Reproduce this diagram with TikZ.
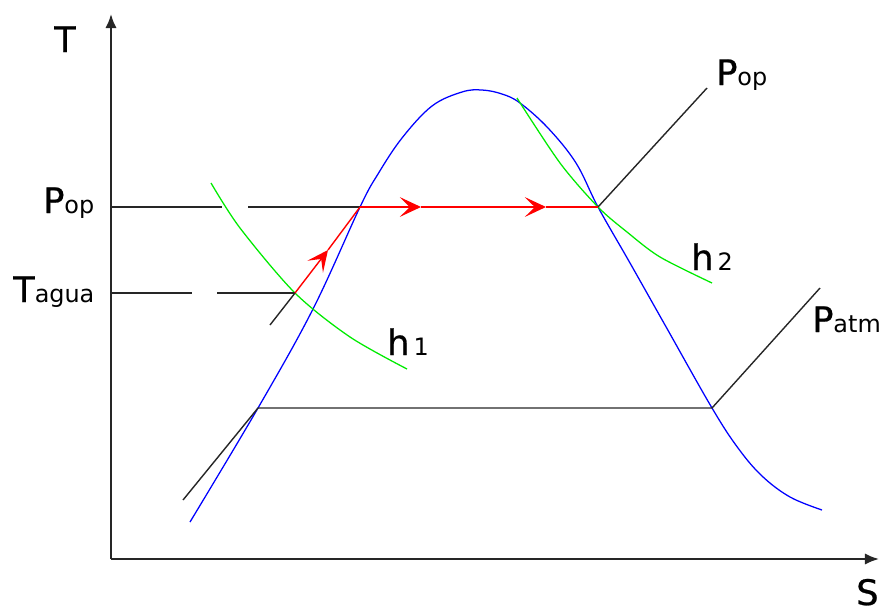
\documentclass[tikz,border=0pt]{standalone}
\usepackage{fontspec}
\setmainfont{DejaVu Sans}
\newfontface\heavylab[FakeBold=0.7]{DejaVu Sans}
\usepackage{xcolor}
\usetikzlibrary{arrows.meta}

\definecolor{domeblue}{RGB}{0,0,255}
\definecolor{enthgreen}{RGB}{0,235,0}
\definecolor{flowred}{RGB}{255,0,0}

\newcommand{\lsub}[1]{{\normalfont\fontsize{17}{17}\selectfont #1}}

\begin{document}
\begin{tikzpicture}[
    x=0.025cm, y=-0.025cm,
    % Axes
    axis/.style={line width=1.4pt, black!85, -{Latex[length=10pt,width=8pt]}},
    % Isobars and guide lines
    iso/.style={line width=1pt, black!85},
    % Saturation dome
    dome/.style={line width=0.9pt, domeblue},
    % Isenthalps
    enth/.style={line width=0.9pt, enthgreen},
    % Heating path
    flow/.style={line width=1pt, flowred},
    flowarr/.style={line width=1pt, flowred, -{Stealth[length=15pt,width=14pt,inset=7pt]}},
    % Labels
    lab/.style={anchor=base west, inner sep=0pt, font=\heavylab\fontsize{25}{25}\selectfont},
]
\useasboundingbox (0,0) rectangle (885,612);

% ===== AXES =====
\coordinate (origin) at (111,559);
\coordinate (t_end) at (111,14);
\coordinate (s_end) at (879,559);
\draw[axis] (origin) -- (t_end);
\draw[axis] (origin) -- (s_end);

\node[lab] (t_lab) at (54,52) {T};
\node[lab] (s_lab) at (856,605) {S};

% ===== KEY POINTS =====
\coordinate (liq_op) at (360,207);
\coordinate (vap_op) at (598,207);
\coordinate (liq_atm) at (258,408);
\coordinate (vap_atm) at (712,408);
\coordinate (w_in) at (295,293);

% ===== SATURATION DOME =====
\draw[dome] plot[smooth, tension=0.6] coordinates {
    (190,522) (258,408) (313,309) (360,207) (378,174) (402,138)
    (432,106) (462,92) (482,90) (502,94) (520,103) (548,128)
    (576,163) (598,207) (630,263) (665,325) (712,408)
    (738,448) (762,476) (790,497) (822,510)};

% ===== ISENTHALPS =====
\draw[enth] plot[smooth] coordinates {
    (211,183) (240,228) (295,293) (350,337) (407,369)};
\node[lab] (h1_lab) at (387,355) {h\lsub{\,1}};

\draw[enth] plot[smooth] coordinates {
    (517,98) (560,163) (598,207) (627,232) (660,257) (712,283)};
\node[lab] (h2_lab) at (691,270) {h\lsub{\,2}};

% ===== OPERATING PRESSURE =====
\coordinate (pop_a) at (222,207);
\coordinate (pop_b) at (248,207);
\coordinate (pop_top) at (707,88);
\draw[iso] (origin |- liq_op) -- (pop_a);
\draw[iso] (pop_b) -- (liq_op);
\draw[iso] (vap_op) -- (pop_top);

\node[lab] (pop_left) at (43,213) {P\lsub{op}};
\node[lab] (pop_right) at (716,85) {P\lsub{op}};

% ===== WATER TEMPERATURE =====
\coordinate (tag_a) at (192,293);
\coordinate (tag_b) at (217,293);
\coordinate (tag_low) at (270,325);
\draw[iso] (origin |- w_in) -- (tag_a);
\draw[iso] (tag_b) -- (w_in);
\draw[iso] (tag_low) -- (w_in);

\node[lab] (tagua) at (13,302) {T\lsub{agua}};

% ===== ATMOSPHERIC PRESSURE =====
\coordinate (patm_low) at (183,500);
\coordinate (patm_top) at (820,288);
\draw[iso] (patm_low) -- (liq_atm) -- (vap_atm) -- (patm_top);

\node[lab] (patm) at (812,332) {P\lsub{atm}};

% ===== HEATING PATH =====
\coordinate (tip1) at (328,250);
\coordinate (tip2) at (421,207);
\coordinate (tip3) at (546,207);
\draw[flowarr] (w_in) -- (tip1);
\draw[flow] (tip1) -- (liq_op);
\draw[flowarr] (liq_op) -- (tip2);
\draw[flowarr] (tip2) -- (tip3);
\draw[flow] (tip3) -- (vap_op);

\end{tikzpicture}
\end{document}
